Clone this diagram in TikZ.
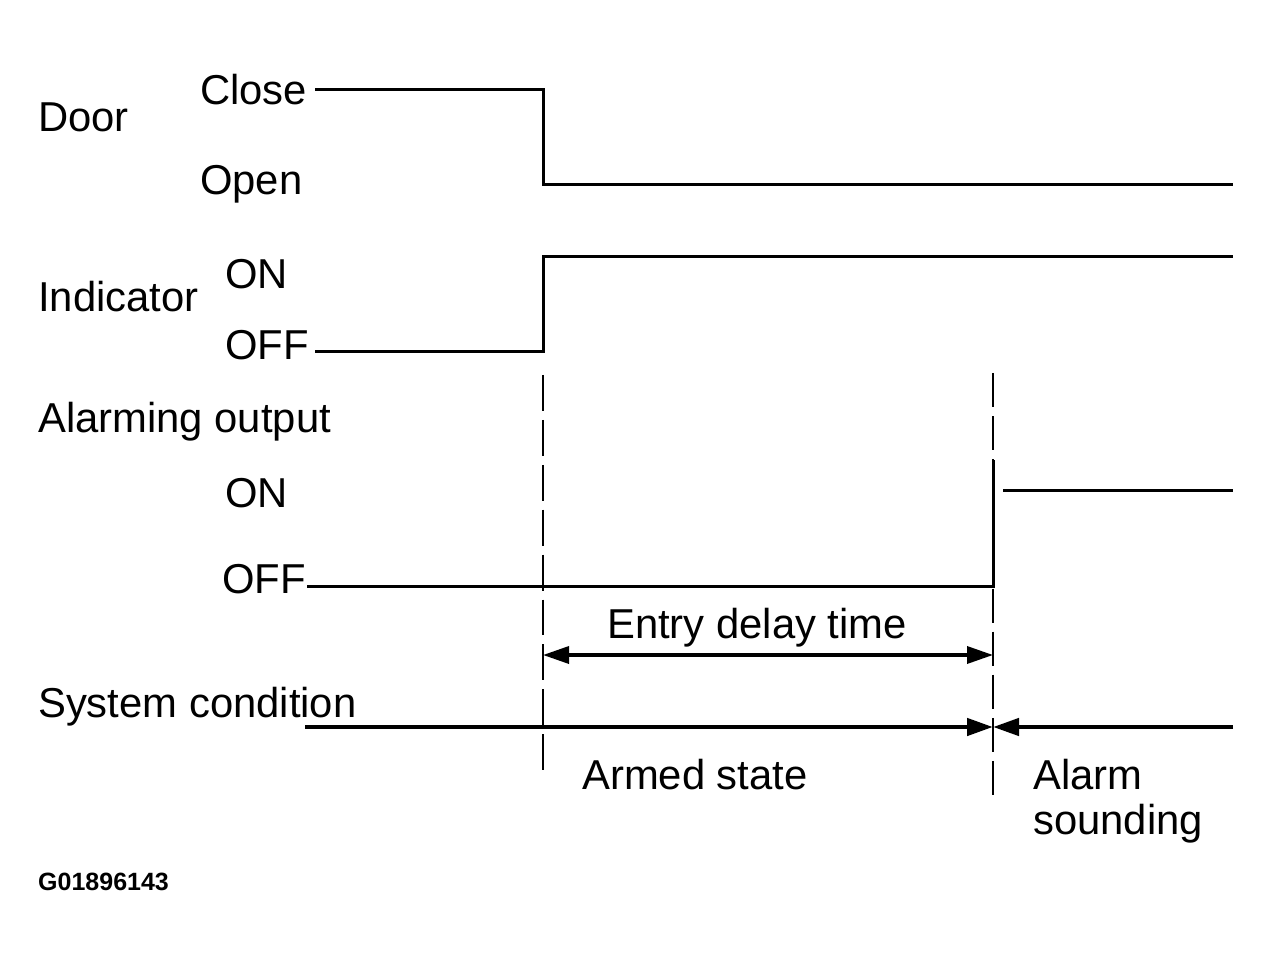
\documentclass[tikz,border=0pt]{standalone}
\usepackage{fontspec}
\setmainfont{Liberation Sans}
\usetikzlibrary{arrows.meta}
\begin{document}
\begin{tikzpicture}[x=1pt,y=-1pt,
  lbl/.style={anchor=base west,inner sep=0pt,font=\fontsize{41.8}{50}\selectfont},
  sig/.style={line width=3pt},
  guide/.style={line width=2.6pt,dash pattern=on 35.9pt off 9pt},
  guideb/.style={line width=2.6pt,dash pattern=on 34.1pt off 9pt},
  tipr/.style={-{Triangle[length=26pt,width=17pt]}},
  tipb/.style={{Triangle[length=26pt,width=17pt]}-{Triangle[length=26pt,width=17pt]}}]
\useasboundingbox[fill=white] (0,0) rectangle (1272,965);
% labels
\node[lbl] (door) at (38,132) {Door};
\node[lbl] (close) at (200,105) {Close};
\node[lbl] (open) at (200,195) {Open};
\node[lbl] (ind) at (38,312) {Indicator};
\node[lbl] (ion) at (225,289) {ON};
\node[lbl] (ioff) at (225,360) {OFF};
\node[lbl] (alarm) at (38,432) {Alarming output};
\node[lbl] (aon) at (225,507) {ON};
\node[lbl] (aoff) at (222,593) {OFF};
\node[lbl] (entry) at (607,638) {Entry delay time};
\node[lbl] (sys) at (38,717) {System condition};
\node[lbl] (armed) at (582,789) {Armed state};
\node[lbl] (alrm) at (1033,789) {Alarm};
\node[lbl] (sound) at (1033,834) {sounding};
\node[anchor=base west,inner sep=0pt,font=\bfseries\fontsize{25}{29}\selectfont] (code) at (38,890) {G01896143};
% time marks
\coordinate (ta) at (543,375);
\coordinate (tae) at (543,770);
\coordinate (tb) at (993,373);
\coordinate (tbe) at (993,795);
\draw[guide] (ta) -- (tae);
\draw[guideb] (tb) -- (tbe);
% door
\coordinate (d0) at (315,90);
\coordinate (d1) at (543,90);
\coordinate (d2) at (543,185);
\coordinate (d3) at (1233,185);
\draw[sig] (d0) -- (d1) -- (d2) -- (d3);
% indicator
\coordinate (i0) at (315,352);
\coordinate (i1) at (543,352);
\coordinate (i2) at (543,257);
\coordinate (i3) at (1233,257);
\draw[sig] (i0) -- (i1) -- (i2) -- (i3);
% alarming output
\coordinate (a0) at (307,586);
\coordinate (a1) at (993,586);
\coordinate (a2) at (993,460);
\coordinate (a3) at (1003,490);
\coordinate (a4) at (1233,490);
\draw[sig] (a0) -- (a1) -- (a2);
\draw[sig] (a3) -- (a4);
% entry delay
\coordinate (e0) at (543,655);
\coordinate (e1) at (993,655);
\draw[line width=3.5pt,tipb] (e0) -- (e1);
% system condition
\coordinate (s0) at (305,727);
\coordinate (s1) at (993,727);
\coordinate (s2) at (1233,727);
\draw[line width=4.5pt,tipr] (s0) -- (s1);
\draw[line width=4.5pt,tipr] (s2) -- (s1);
\end{tikzpicture}
\end{document}
